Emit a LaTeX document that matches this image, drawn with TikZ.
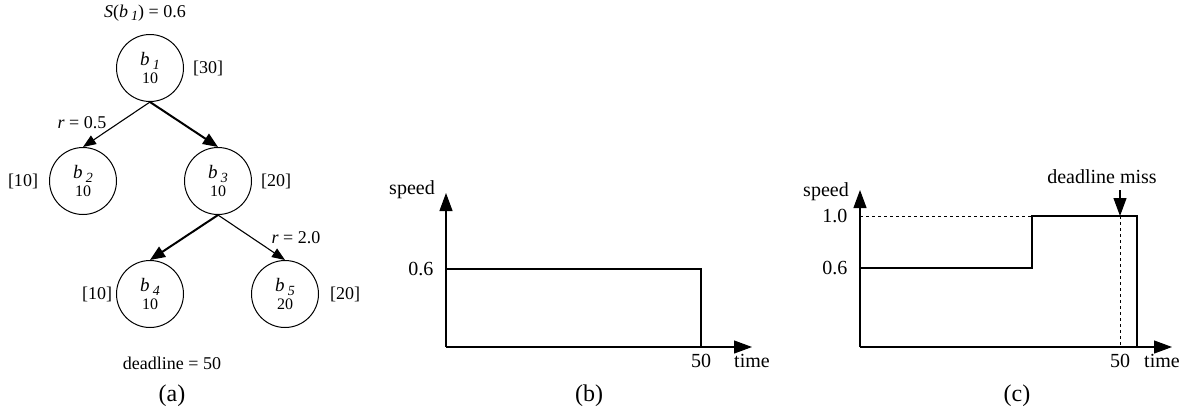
\documentclass[tikz,border=0pt]{standalone}
\usepackage{fontspec}
\setmainfont{Liberation Serif}
\usetikzlibrary{arrows.meta}

\newcommand{\sbx}[1]{\,\raisebox{-0.4ex}{\fontsize{14}{14}\selectfont\textit{#1}}}
\newcommand{\blab}[2]{\textit{b}\sbx{#1}\\[-1pt]{\fontsize{16}{16}\selectfont #2}}

\begin{document}
\begin{tikzpicture}[x=1pt, y=-1pt,
    blk/.style={circle, draw, line width=1pt, minimum size=67pt, inner sep=0pt, align=center,
      font=\fontsize{19}{19}\selectfont},
    lightedge/.style={line width=1.1pt, -{Triangle[length=13pt,width=10pt]}},
    heavyedge/.style={line width=2pt, -{Triangle[length=15pt,width=12pt]}},
    axis/.style={line width=1.1pt, -{Triangle[length=18pt,width=13pt]}},
    prof/.style={line width=2.4pt},
    lbl/.style={font=\fontsize{18}{20}\selectfont},
    plbl/.style={font=\fontsize{20}{22}\selectfont},
    captxt/.style={font=\fontsize{24}{26}\selectfont}]
    \useasboundingbox (0,0) rectangle (1190,413);
    % (a) task tree
    \node[lbl] (sb1) at (145,13) {\textit{S}(\textit{b}\sbx{1}) = 0.6};
    \node[blk] (b1) at (150,68) {\blab{1}{10}};
    \node[blk] (b2) at (83,181) {\blab{2}{10}};
    \node[blk] (b3) at (218,181) {\blab{3}{10}};
    \node[blk] (b4) at (150,294) {\blab{4}{10}};
    \node[blk] (b5) at (285,294) {\blab{5}{20}};
    \node[lbl] (w1) at (208,68) {[30]};
    \node[lbl] (w2) at (23,181) {[10]};
    \node[lbl] (w3) at (276,181) {[20]};
    \node[lbl] (w4) at (97,294) {[10]};
    \node[lbl] (w5) at (345,294) {[20]};
    \draw[lightedge] (b1.south) -- (b2.north);
    \draw[heavyedge] (b1.south) -- (b3.north);
    \draw[heavyedge] (b3.south) -- (b4.north);
    \draw[lightedge] (b3.south) -- (b5.north);
    \node[lbl] (r2) at (82,123) {\textit{r} = 0.5};
    \node[lbl] (r5) at (296,238) {\textit{r} = 2.0};
    \node[lbl] (dl) at (172,363) {deadline = 50};
    \node[captxt] (capa) at (172,396) {(a)};
    % (b) constant speed
    \coordinate (ob) at (446,347);
    \coordinate (yb) at (446,193);
    \coordinate (xb) at (752,347);
    \draw[axis] (ob) -- (yb);
    \draw[axis] (ob) -- (xb);
    \draw[prof] (446,269) -- (701,269) -- (701,347);
    \node[plbl] (spb) at (412,190) {speed};
    \node[plbl, anchor=east] (v6b) at (437,269) {0.6};
    \node[plbl] (t50b) at (701,361) {50};
    \node[plbl] (timeb) at (752,361) {time};
    \node[captxt] (capb) at (589,396) {(b)};
    % (c) speed change
    \coordinate (oc) at (860,347);
    \coordinate (yc) at (860,190);
    \coordinate (xc) at (1172,347);
    \coordinate (dtop) at (1120,190);
    \coordinate (dhit) at (1120,216);
    \coordinate (dbot) at (1120,347);
    \draw[dashed, line width=0.8pt] (860,216) -- (1032,216);
    \draw[dashed, line width=0.8pt] (dhit) -- (dbot);
    \draw[axis] (oc) -- (yc);
    \draw[axis] (oc) -- (xc);
    \draw[prof] (860,268) -- (1032,268) -- (1032,216) -- (1137,216) -- (1137,347);
    \draw[axis] (dtop) -- (dhit);
    \node[plbl] (spc) at (826,192) {speed};
    \node[plbl, anchor=east] (v10c) at (851,216) {1.0};
    \node[plbl, anchor=east] (v6c) at (851,268) {0.6};
    \node[plbl] (miss) at (1102,177) {deadline miss};
    \node[plbl] (t50c) at (1120,361) {50};
    \node[plbl] (timec) at (1162,361) {time};
    \node[captxt] (capc) at (1017,396) {(c)};
\end{tikzpicture}
\end{document}
